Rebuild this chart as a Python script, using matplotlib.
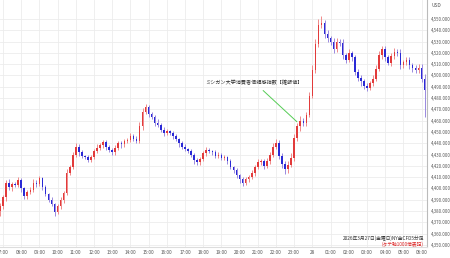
import matplotlib
matplotlib.use("Agg")
import matplotlib.pyplot as plt
import numpy as np

plt.rcParams['font.family'] = ['Noto Sans CJK JP', 'DejaVu Sans']

# 10-minute closes, first candle at 06:50 (hours counted from 07:00)
closes = [4384, 4392, 4405, 4401, 4404, 4403, 4407, 4400, 4393, 4397,
          4399, 4405, 4404, 4409, 4401, 4395, 4390, 4386, 4379, 4384,
          4390, 4396, 4414, 4419, 4430, 4437, 4432, 4429, 4428, 4425,
          4428, 4433, 4436, 4438, 4441, 4437, 4434, 4432, 4436, 4440,
          4439, 4442, 4443, 4446, 4444, 4442, 4455, 4468, 4472, 4466,
          4463, 4458, 4456, 4452, 4449, 4451, 4449, 4446, 4444, 4440,
          4437, 4435, 4433, 4430, 4425, 4423, 4426, 4431, 4434, 4433,
          4432, 4429, 4430, 4427, 4428, 4424, 4419, 4416, 4412, 4408,
          4405, 4408, 4410, 4414, 4419, 4423, 4424, 4420, 4424, 4430,
          4437, 4440, 4429, 4422, 4417, 4421, 4427, 4445, 4455, 4460,
          4458, 4465, 4482, 4505, 4528, 4545, 4546, 4537, 4533, 4530,
          4523, 4530, 4529, 4518, 4514, 4520, 4516, 4503, 4498, 4495,
          4491, 4489, 4493, 4497, 4506, 4518, 4523, 4516, 4511, 4517,
          4521, 4520, 4509, 4512, 4514, 4509, 4507, 4505, 4507, 4497,
          4487]
first_open = 4380
up_wick = [3, 2, 2, 3, 2, 2, 3, 2, 1, 2,
           2, 3, 2, 2, 1, 2, 1, 2, 1, 2,
           2, 2, 3, 2, 2, 3, 2, 2, 1, 2,
           2, 2, 3, 2, 2, 2, 1, 2, 2, 2,
           2, 2, 2, 3, 2, 2, 4, 3, 3, 2,
           2, 2, 3, 2, 2, 2, 1, 2, 2, 1,
           2, 2, 1, 2, 1, 2, 2, 2, 3, 2,
           1, 2, 2, 1, 2, 1, 2, 1, 2, 1,
           2, 2, 2, 2, 2, 3, 2, 2, 3, 2,
           3, 4, 3, 2, 2, 3, 4, 3, 3, 4,
           2, 3, 3, 4, 4, 5, 7, 3, 3, 2,
           3, 3, 2, 3, 2, 3, 2, 2, 3, 2,
           2, 2, 2, 3, 3, 4, 3, 3, 2, 3,
           3, 2, 3, 2, 2, 2, 2, 2, 3, 3,
           4]
dn_wick = [4, 2, 3, 2, 3, 2, 2, 3, 2, 2,
           2, 2, 3, 2, 2, 2, 2, 2, 3, 2,
           2, 3, 2, 2, 2, 2, 3, 2, 2, 2,
           2, 2, 2, 2, 2, 3, 2, 2, 2, 2,
           3, 2, 2, 2, 2, 2, 2, 3, 2, 3,
           2, 3, 2, 2, 3, 2, 2, 2, 2, 3,
           2, 2, 2, 2, 3, 2, 2, 2, 2, 2,
           2, 2, 2, 2, 2, 2, 2, 2, 3, 3,
           3, 2, 2, 2, 3, 2, 2, 3, 2, 2,
           2, 2, 3, 4, 4, 3, 2, 3, 3, 4,
           3, 3, 2, 2, 3, 3, 3, 4, 3, 3,
           3, 2, 3, 3, 3, 2, 3, 3, 3, 4,
           3, 3, 2, 2, 2, 2, 3, 3, 2, 3,
           2, 3, 3, 2, 3, 3, 4, 3, 3, 3,
           24]

hour_labels = ["07:00", "08:00", "09:00", "10:00", "11:00", "12:00", "13:00",
               "14:00", "15:00", "16:00", "17:00", "18:00", "19:00", "20:00",
               "21:00", "22:00", "23:00", "28", "01:00", "02:00", "03:00",
               "04:00", "05:00", "06:00"]
price_ticks = [4350, 4360, 4370, 4380, 4390, 4400, 4410, 4420, 4430, 4440, 4450,
               4460, 4470, 4480, 4490, 4500, 4510, 4520, 4530, 4540, 4550]

closes = np.array(closes, dtype=float)
opens = np.concatenate([[first_open], closes[:-1]])
highs = np.maximum(opens, closes) + np.array(up_wick)
lows = np.minimum(opens, closes) - np.array(dn_wick)
t = (np.arange(len(closes)) - 1) / 6.0

up = closes >= opens
body_col = np.where(up, "#e23b3b", "#2a2ad6")
wick_col = np.where(up, "#f08a8a", "#9a8ae0")

fig = plt.figure(figsize=(4.5, 2.58), dpi=100)
ax = fig.add_axes([0, 0.043, 0.949, 0.957])

ax.vlines(t, lows, highs, colors=wick_col, linewidth=0.7, zorder=2)
heights = np.maximum(np.abs(closes - opens), 0.6)
ax.bar(t, heights, bottom=np.minimum(opens, closes), width=0.085,
       color=body_col, linewidth=0, zorder=3)

ax.set_xlim(-0.165, 23.3)
ax.set_ylim(4348.2, 4566.8)

ax.set_xticks(range(len(hour_labels)))
ax.set_xticklabels(hour_labels)
ax.set_yticks(price_ticks)
ax.set_yticklabels([f"{p:,}.000" for p in price_ticks])
ax.yaxis.tick_right()
ax.tick_params(axis='x', labelsize=3.4, colors="#555555", length=0, pad=2)
ax.tick_params(axis='y', labelsize=3.1, colors="#555555", length=0, pad=2.5)
ax.grid(True, color="#ececec", linewidth=0.6, zorder=0)
for s in ["top", "left"]:
    ax.spines[s].set_visible(False)
ax.spines["right"].set_color("#bbbbbb")
ax.spines["bottom"].set_color("#dddddd")

fig.text(0.958, 0.978, "USD", fontsize=3.5, color="#555555", ha="left", va="center")

# event marker: Michigan consumer sentiment (final)
ax.annotate("ミシガン大学消費者信頼感指数【確報値】", xy=(16.15, 4459), xytext=(13.8, 4494),
            fontsize=3.7, ha="center", va="center", color="#333333",
            arrowprops=dict(arrowstyle="-", color="#55cc55", lw=0.7, shrinkA=3, shrinkB=0))

ax.text(23.13, 4356, "2026年3月27日(金曜日)NY金CFD5分足", fontsize=3.4,
        ha="right", va="center", color="#333333")
ax.text(23.13, 4350.5, "(タテ軸1000倍表記)", fontsize=3.4,
        ha="right", va="center", color="#dd2222")

fig.savefig("out.png", dpi=100)
